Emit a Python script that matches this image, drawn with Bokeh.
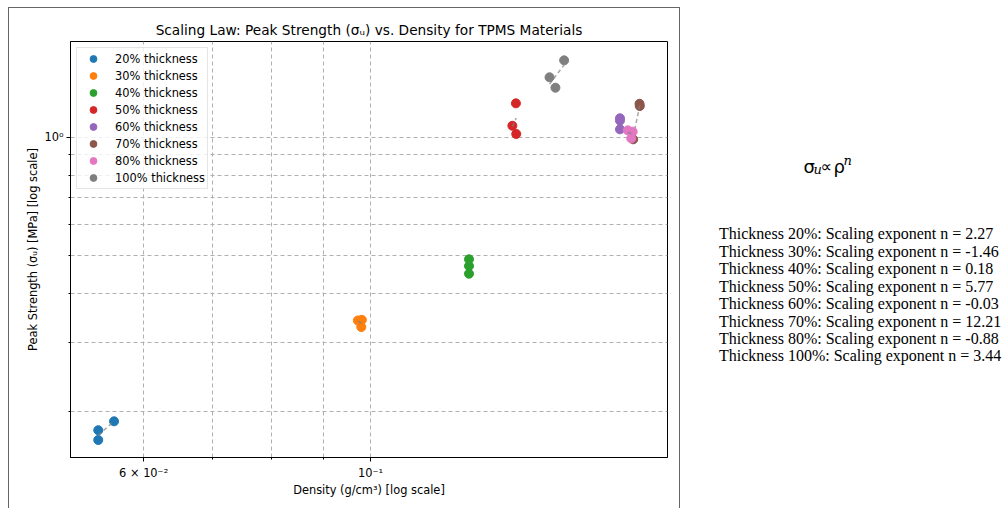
import numpy as np
from bokeh.plotting import figure
from bokeh.models import Range1d, FixedTicker
from bokeh.layouts import row
from bokeh.embed import file_html
from bokeh.resources import INLINE
from bokeh.core.properties import value

# ---------------- data ----------------
series_labels = ["20% thickness", "30% thickness", "40% thickness", "50% thickness",
                 "60% thickness", "70% thickness", "80% thickness", "100% thickness"]
thickness_names = ["20%", "30%", "40%", "50%", "60%", "70%", "80%", "100%"]
colors = ["#1f77b4", "#ff7f0e", "#2ca02c", "#d62728",
          "#9467bd", "#8c564b", "#e377c2", "#7f7f7f"]

rho_20 = [0.05417, 0.05417, 0.05613]
sig_20 = [0.1794, 0.1694, 0.1890]
rho_30 = [0.09718, 0.09806, 0.09793]
sig_30 = [0.3412, 0.3426, 0.3284]
rho_40 = [0.1248, 0.1248, 0.1248]
sig_40 = [0.4884, 0.4696, 0.4489]
rho_50 = [0.1387, 0.1376, 0.1388]
sig_50 = [1.218, 1.068, 1.018]
rho_60 = [0.1753, 0.1753, 0.1753]
sig_60 = [1.116, 1.101, 1.046]
rho_70 = [0.1832, 0.1833, 0.1806]
sig_70 = [1.215, 1.199, 0.9866]
rho_80 = [0.1784, 0.1804, 0.1798]
sig_80 = [1.040, 1.032, 0.992]
rho_100 = [0.1496, 0.1546, 0.1516]
sig_100 = [1.419, 1.567, 1.335]

exponents = [2.27, -1.46, 0.18, 5.77, -0.03, 12.21, -0.88, 3.44]

x_major_ticks = [0.06, 0.1]
x_minor_ticks = [0.07, 0.08, 0.09]
x_tick_labels = {0.06: "6 × 10⁻²", 0.1: "10⁻¹"}
y_major_ticks = [1.0]
y_minor_ticks = [0.2, 0.3, 0.4, 0.5, 0.6, 0.7, 0.8, 0.9]
y_tick_labels = {1.0: "10⁰"}

densities = [rho_20, rho_30, rho_40, rho_50, rho_60, rho_70, rho_80, rho_100]
strengths = [sig_20, sig_30, sig_40, sig_50, sig_60, sig_70, sig_80, sig_100]

FONT = "DejaVu Sans"

# ---------------- main plot ----------------
p = figure(width=680, height=508,
           x_axis_type="log", y_axis_type="log",
           x_range=Range1d(0.05089, 0.1951), y_range=Range1d(0.1529, 1.750),
           output_backend="svg", toolbar_location=None,
           min_border_left=70, min_border_right=13,
           min_border_top=41, min_border_bottom=51,
           title="Scaling Law: Peak Strength (σᵤ) vs. Density for TPMS Materials")

p.border_fill_color = None
p.background_fill_color = "white"
p.styles = {
    "background": "linear-gradient(#666666, #666666) 8px 7px / 1px 100% no-repeat, "
                  "linear-gradient(#666666, #666666) 8px 7px / 672px 1px no-repeat, "
                  "linear-gradient(#666666, #666666) 679px 7px / 1px 100% no-repeat, white"
}

p.title.align = "center"
p.title.text_font = FONT
p.title.text_font_size = "13.7px"
p.title.text_font_style = "normal"
p.title.text_color = "black"
p.title.standoff = 8

p.xaxis.ticker = FixedTicker(ticks=x_major_ticks, minor_ticks=x_minor_ticks)
p.yaxis.ticker = FixedTicker(ticks=y_major_ticks, minor_ticks=y_minor_ticks)
p.xaxis.major_label_overrides = x_tick_labels
p.yaxis.major_label_overrides = y_tick_labels
p.xaxis.axis_label = "Density (g/cm³) [log scale]"
p.yaxis.axis_label = "Peak Strength (σᵤ) [MPa] [log scale]"

for ax in (p.xaxis[0], p.yaxis[0]):
    ax.axis_label_text_font = FONT
    ax.axis_label_text_font_size = "11.4px"
    ax.axis_label_text_font_style = "normal"
    ax.axis_label_text_color = "black"
    ax.major_label_text_font = FONT
    ax.major_label_text_font_size = "11.4px"
    ax.major_label_text_color = "black"
    ax.major_label_standoff = 3
    ax.major_tick_out = 4
    ax.major_tick_in = 0
    ax.minor_tick_out = 2
    ax.minor_tick_in = 0
    ax.axis_line_color = "black"
    ax.major_tick_line_color = "black"
    ax.minor_tick_line_color = "black"
p.xaxis[0].axis_label_standoff = 0
p.xaxis[0].major_label_standoff = 4
p.yaxis[0].axis_label_standoff = 1

for g in (p.xgrid[0], p.ygrid[0]):
    g.grid_line_color = "#b0b0b0"
    g.grid_line_dash = "4 3"
    g.grid_line_width = 1
    g.minor_grid_line_color = "#b0b0b0"
    g.minor_grid_line_dash = "4 3"
    g.minor_grid_line_width = 1

p.outline_line_color = "black"
p.outline_line_width = 1
p.outline_line_alpha = 1

for rho, sig, n, col, lab in zip(densities, strengths, exponents, colors, series_labels):
    lx = np.log10(rho)
    ly = np.log10(sig)
    mx, my = lx.mean(), ly.mean()
    xs = np.array([min(rho), max(rho)])
    ys = 10 ** (my + n * (np.log10(xs) - mx))
    p.scatter(rho, sig, size=9, color=col, legend_label=lab)
    p.line(xs, ys, line_color="gray", line_dash="4 3", line_alpha=0.7, line_width=1.5)

lg = p.legend[0]
lg.location = "top_left"
lg.margin = 6
lg.padding = 2
lg.spacing = 0
lg.label_height = 17
lg.glyph_height = 17
lg.glyph_width = 28
lg.label_standoff = 8
lg.label_text_font = FONT
lg.label_text_font_size = "11.4px"
lg.label_text_color = "black"
lg.border_line_color = "#cccccc"
lg.border_line_width = 1
lg.background_fill_alpha = 0.8

# ---------------- right-hand text panel ----------------
q = figure(width=327, height=508, x_range=Range1d(680, 1007), y_range=Range1d(457, 41),
           output_backend="svg", toolbar_location=None,
           min_border_left=0, min_border_right=0, min_border_top=41, min_border_bottom=51)
q.axis.visible = False
q.grid.visible = False
q.outline_line_color = None

# formula sigma_u ∝ rho^n
q.text(x=[803], y=[165.5], text=["σ"], text_font=value(FONT), text_font_size="18px",
       text_baseline="alphabetic", text_color="black")
q.text(x=[813], y=[169], text=["u"], text_font=value("DejaVu Serif"), text_font_size="13px",
       text_font_style="italic", text_baseline="alphabetic", text_color="black")
q.text(x=[820], y=[165.5], text=["∝"], text_font=value(FONT), text_font_size="16px",
       text_baseline="alphabetic", text_color="black")
q.text(x=[833], y=[165.5], text=["ρ"], text_font=value(FONT), text_font_size="18px",
       text_baseline="alphabetic", text_color="black")
q.text(x=[843], y=[159.5], text=["n"], text_font=value("DejaVu Serif"), text_font_size="13px",
       text_font_style="italic", text_baseline="alphabetic", text_color="black")

lines = ["Thickness %s: Scaling exponent n = %.2f" % (t, n) for t, n in zip(thickness_names, exponents)]
line_y = [233.3 + 17.45 * i for i in range(len(lines))]
q.text(x=[718.5] * len(lines), y=line_y, text=lines, text_font=value("Liberation Serif"),
       text_font_size="16px", text_baseline="alphabetic", text_color="black")

layout = row(p, q)
open("out.html", "w").write(file_html(layout, INLINE))
